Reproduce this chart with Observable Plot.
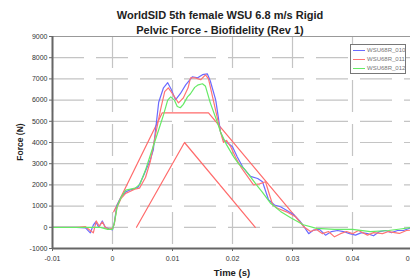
<!DOCTYPE html>
<html><head><meta charset="utf-8">
<script src="https://cdn.jsdelivr.net/npm/d3@7"></script>
<script src="https://cdn.jsdelivr.net/npm/@observablehq/plot@0.6"></script>
<style>
body{margin:0;background:#fff;font-family:"Liberation Sans",Arial,sans-serif;}
#wrap{position:relative;width:410px;height:280px;overflow:hidden;background:#fff;}
#wrap svg{position:absolute;left:0;top:0;overflow:visible;}
#title{position:absolute;left:0;top:8px;width:440px;text-align:center;font-weight:bold;font-size:11px;line-height:15px;color:#222;}
#ylab{position:absolute;left:20px;top:142px;transform:translate(-50%,-50%) rotate(-90deg);font-weight:bold;font-size:8.5px;color:#222;white-space:nowrap;}
#xlab{position:absolute;left:232px;top:272px;transform:translate(-50%,-50%);font-weight:bold;font-size:9.5px;color:#222;white-space:nowrap;}
#legend{position:absolute;left:350px;top:44px;width:54px;height:28px;border:1px solid #777;background:#fff;font-size:6px;color:#777;}
.row{position:absolute;left:2px;height:8px;display:flex;align-items:center;}
.sw{width:12px;height:0;border-top:1.3px solid;margin-right:2px;}
</style>
</head><body>
<div id="wrap"></div>
<script>
const titleLines = ["WorldSID 5th female WSU 6.8 m/s Rigid", "Pelvic Force - Biofidelity (Rev 1)"];
const xLabel = "Time (s)";
const yLabel = "Force (N)";
const seriesNames = ["WSU68R_010", "WSU68R_011", "WSU68R_012"];
const seriesColors = ["#6a6aff", "#ff7474", "#66ea66"];
const xTicks = [-0.01, 0, 0.01, 0.02, 0.03, 0.04, 0.05];
const yTicks = [-1000, 0, 1000, 2000, 3000, 4000, 5000, 6000, 7000, 8000, 9000];

const tBlue = [-0.01,-0.006,-0.0045,-0.0037,-0.0032,-0.0028,-0.0023,-0.0017,-0.0012,-0.0006,0,0.0003,0.0007,0.0014,0.0022,0.0028,0.0035,0.0043,0.0052,0.0063,0.0068,0.0077,0.0085,0.0092,0.0098,0.0105,0.0113,0.0122,0.0133,0.0142,0.015,0.0158,0.0163,0.0172,0.018,0.0185,0.0193,0.02,0.0208,0.0218,0.0225,0.023,0.0242,0.025,0.026,0.027,0.028,0.029,0.0302,0.0312,0.032,0.0327,0.0335,0.0345,0.0355,0.0365,0.0375,0.0385,0.0395,0.0405,0.0415,0.0425,0.0435,0.0445,0.0455,0.0465,0.0475,0.0485,0.05];
const fBlue = [0,0,-30,-260,100,260,0,300,0,-70,-120,200,1000,1400,1670,1750,1800,1900,2450,3180,3650,5900,6580,6820,6500,6010,6300,6720,7100,7050,7200,7240,6900,6010,4500,4130,3950,3800,3320,2800,2570,2400,2300,2150,1300,1050,970,800,590,300,0,-300,-130,-100,-370,-200,-150,-200,-300,-370,-250,-300,-400,-200,-150,-250,-150,-150,0];

const tRed = [-0.01,-0.006,-0.0045,-0.0035,-0.0032,-0.0027,-0.0022,-0.0017,-0.0012,-0.0006,0,0.0003,0.0007,0.0014,0.0022,0.003,0.0037,0.0045,0.0055,0.0063,0.007,0.008,0.0087,0.0093,0.01,0.011,0.0118,0.0126,0.013,0.0138,0.0147,0.0155,0.016,0.0168,0.018,0.0185,0.019,0.0197,0.0205,0.0215,0.0225,0.0235,0.0245,0.0255,0.0262,0.0267,0.0275,0.029,0.0305,0.032,0.033,0.034,0.035,0.036,0.037,0.038,0.039,0.04,0.041,0.0425,0.0435,0.045,0.046,0.0478,0.049,0.05];
const fRed = [0,0,30,-200,-260,300,50,250,0,-100,-50,150,900,1350,1600,1700,1800,1850,2350,3100,4130,5540,6400,6580,6300,5870,6100,6580,7050,7050,6960,7190,7000,6000,4500,4000,4100,3800,3300,2800,2400,2000,2050,2150,1500,1060,900,730,500,0,-200,-100,-300,-200,-450,-300,-200,-300,-150,-370,-250,-300,-200,-290,-150,-130];

const tGreen = [-0.01,-0.004,-0.002,-0.0008,0,0.0003,0.0008,0.0015,0.0022,0.003,0.0038,0.0046,0.0055,0.0063,0.007,0.0077,0.0085,0.0092,0.0097,0.0103,0.0108,0.0113,0.0118,0.0125,0.013,0.0137,0.0143,0.015,0.0155,0.0163,0.0175,0.018,0.019,0.0202,0.021,0.022,0.023,0.024,0.025,0.0263,0.028,0.0297,0.0318,0.034,0.037,0.04,0.043,0.046,0.048,0.05];
const fGreen = [0,0,0,-100,-100,200,1000,1450,1750,1800,1850,2050,2700,3400,4000,4600,5300,6000,6150,6000,5700,5640,5800,6150,6300,6600,6720,6770,6650,5870,4930,4500,3900,3320,3000,2750,2380,2000,1650,1150,750,450,120,-50,-100,-100,-200,-150,-80,0];

const tUpper = [0.0002, 0.0083, 0.016, 0.032];
const fUpper = [730, 5400, 5400, 0];
const tLower = [0.004, 0.012, 0.0238];
const fLower = [0, 4000, 0];
const corridorColor = "#ff6b6b";

const toRows = (ts, fs) => ts.map((t, i) => ({t, f: fs[i]}));
const series = [toRows(tBlue, fBlue), toRows(tRed, fRed), toRows(tGreen, fGreen)];

const wrap = document.getElementById("wrap");
const chart = Plot.plot({
  width: 410, height: 280,
  marginLeft: 52, marginRight: -2, marginTop: 36, marginBottom: 32,
  style: {background: "transparent", fontFamily: "'Liberation Sans', Arial, sans-serif", color: "#333"},
  x: {domain: [-0.01, 0.05]},
  y: {domain: [-1000, 9000]},
  marks: [
    Plot.gridY(yTicks, {stroke: "#c4c4c4", strokeOpacity: 1, strokeDasharray: "32,12", strokeWidth: 1.2}),
    Plot.gridX(xTicks, {stroke: "#c4c4c4", strokeOpacity: 1, strokeDasharray: "32,12", strokeWidth: 1.2}),
    Plot.ruleY([9000], {stroke: "#999"}),
    Plot.line(toRows(tUpper, fUpper), {x: "t", y: "f", stroke: corridorColor, strokeWidth: 1.2}),
    Plot.line(toRows(tLower, fLower), {x: "t", y: "f", stroke: corridorColor, strokeWidth: 1.2}),
    ...series.map((d, i) => Plot.line(d, {x: "t", y: "f", stroke: seriesColors[i], strokeWidth: 1.2, clip: true})),
    Plot.ruleX([-0.01], {stroke: "#666", strokeWidth: 2}),
    Plot.ruleY([-1000], {stroke: "#666", strokeWidth: 2}),
    Plot.axisY(yTicks, {tickSize: 3, tickPadding: 2, fontSize: 7, tickFormat: d => String(d), label: null, stroke: "#666"}),
    Plot.axisX(xTicks, {tickSize: 3, tickPadding: 5, fontSize: 7, tickFormat: d => d === 0 ? "0" : d.toFixed(2), label: null, stroke: "#666"})
  ]
});
wrap.appendChild(chart);

const title = document.createElement("div");
title.id = "title";
title.innerHTML = titleLines.join("<br>");
wrap.appendChild(title);

const yl = document.createElement("div"); yl.id = "ylab"; yl.textContent = yLabel; wrap.appendChild(yl);
const xl = document.createElement("div"); xl.id = "xlab"; xl.textContent = xLabel; wrap.appendChild(xl);

const leg = document.createElement("div"); leg.id = "legend";
seriesNames.forEach((n, i) => {
  const r = document.createElement("div"); r.className = "row"; r.style.top = (1 + i * 9) + "px";
  const s = document.createElement("div"); s.className = "sw"; s.style.borderColor = seriesColors[i];
  const t = document.createElement("span"); t.textContent = n;
  r.appendChild(s); r.appendChild(t); leg.appendChild(r);
});
wrap.appendChild(leg);
</script>
</body></html>
